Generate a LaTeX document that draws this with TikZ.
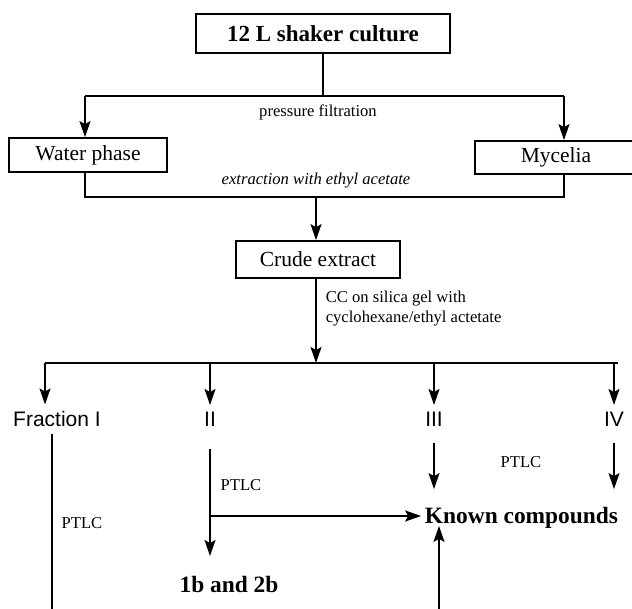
\documentclass[tikz,border=0pt]{standalone}
\usepackage{fontspec}
\setmainfont{Liberation Serif}
\newfontfamily\fracfont{Liberation Sans}
\usetikzlibrary{arrows.meta, calc}

\begin{document}
\begin{tikzpicture}[x=0.5pt, y=-0.5pt, line width=0.8pt,
  box/.style={draw, line width=0.9pt, inner sep=0pt, font=\fontsize{10.75}{12}\selectfont},
  arr/.style={-{Stealth[length=8pt, width=5.5pt, inset=1.5pt]}},
  note/.style={font=\fontsize{8.3}{10}\selectfont, inner sep=1pt},
  frac/.style={font=\fracfont\fontsize{10.5}{12}\selectfont, inner xsep=1.5pt, inner ysep=3pt},
  hit/.style={font=\bfseries\fontsize{11.7}{14}\selectfont, inner sep=1.5pt}]
\useasboundingbox (0,0) rectangle (632,609);
\clip (0,0) rectangle (632,609);

% Filtration of the culture
\node[box, minimum width=127pt, minimum height=19.5pt, font=\bfseries\fontsize{11.5}{14}\selectfont] (culture) at (323,33.5) {12 L shaker culture};
\node[box, minimum width=79pt, minimum height=17pt] (water) at (88,155) {Water phase};
\node[box, minimum width=81pt, minimum height=16.5pt] (mycel) at (556,157.5) {Mycelia};
\node[note] (filt) at (318,112) {pressure filtration};
\coordinate (fl) at (85,96);
\coordinate (fr) at (564,96);
\draw (culture.south) -- (culture.south |- fl);
\draw (fl) -- (fr);
\draw[arr] (fl) -- (fl |- water.north);
\draw[arr] (fr) -- (fr |- mycel.north);

% Extraction
\coordinate (el) at (85,197);
\coordinate (er) at (564,197);
\coordinate (em) at (316,197);
\draw (fl |- water.south) -- (el) -- (er) -- (fr |- mycel.south);
\node[note, font=\itshape\fontsize{8.3}{10}\selectfont] (extr) at (316,181) {extraction with ethyl acetate};
\node[box, minimum width=82pt, minimum height=18.5pt] (crude) at (318,259.5) {Crude extract};
\draw[arr] (em) -- (em |- crude.north);

% Column chromatography
\coordinate (cl) at (45,363);
\coordinate (cm) at (316,363);
\coordinate (cr) at (618,363);
\draw[arr] (em |- crude.south) -- (cm);
\draw (cl) -- (cr);
\node[note, anchor=west, align=left] (cc) at (323,309) {CC on silica gel with\\cyclohexane/ethyl actetate};

% Fractions
\node[frac] (f1) at (57,419) {Fraction I};
\node[frac] (f2) at (210,419) {II};
\node[frac] (f3) at (434,419) {III};
\node[frac] (f4) at (614,419) {IV};
\draw[arr] (cl) -- (cl |- f1.north);
\draw[arr] (f2 |- cl) -- (f2.north);
\draw[arr] (f3 |- cl) -- (f3.north);
\draw[arr] (f4 |- cl) -- (f4.north);

% PTLC
\node[hit] (prod) at (229,584) {1b and 2b};
\node[hit] (known) at (521.5,517.5) {Known compounds};
\node[note] (ptlc1) at (82,523) {PTLC};
\node[note] (ptlc2) at (241,485) {PTLC};
\node[note] (ptlc3) at (521,462) {PTLC};
\coordinate (f1end) at (52,615);
\coordinate (f2j) at (210,516);
\coordinate (kend) at (439,615);
\draw (f1end |- f1.south) -- (f1end);
\draw[arr, shorten <=8pt, shorten >=8pt] (f2.south) -- (f2.south |- prod.north);
\draw[arr] (f2j) -- (f2j -| known.west);
\draw[arr, shorten <=5pt, shorten >=7pt] (f3.south) -- (f3.south |- known.north);
\draw[arr, shorten <=5pt, shorten >=7pt] (f4.south) -- (f4.south |- known.north);
\draw[arr, shorten >=-3pt] (kend) -- (kend |- known.south);
\end{tikzpicture}
\end{document}
